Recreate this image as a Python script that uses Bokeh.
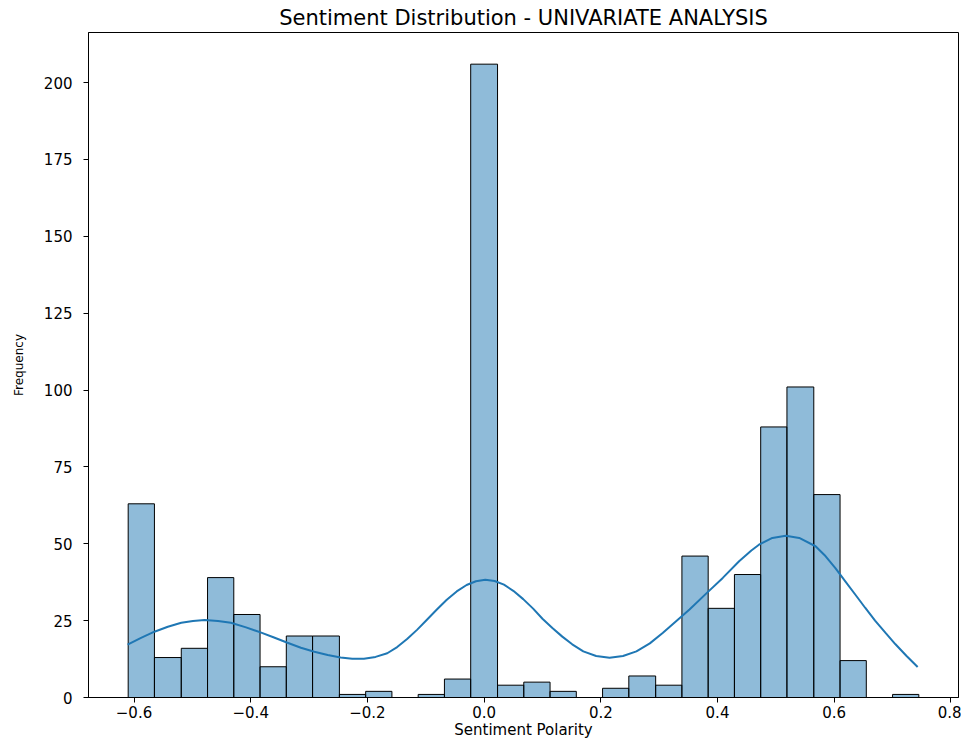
from bokeh.plotting import figure
from bokeh.models import FixedTicker, ColumnDataSource, Range1d
from bokeh.embed import file_html
from bokeh.resources import INLINE

# --- data ---
bin_edges = [-0.610, -0.565, -0.519, -0.474, -0.429, -0.384, -0.339, -0.294, -0.248, -0.203,
             -0.158, -0.113, -0.068, -0.023, 0.023, 0.068, 0.113, 0.158, 0.203, 0.248,
             0.294, 0.339, 0.384, 0.429, 0.474, 0.519, 0.565, 0.610, 0.655, 0.700, 0.745]
counts = [63, 13, 16, 39, 27, 10, 20, 20, 1, 2,
          0, 1, 6, 206, 4, 5, 2, 0, 3, 7,
          4, 46, 29, 40, 88, 101, 66, 12, 0, 1]

# KDE curve, points
kde_x = [-0.611, -0.588, -0.565, -0.542, -0.519, -0.499, -0.479, -0.456, -0.434, -0.408,
         -0.382, -0.360, -0.337, -0.314, -0.291, -0.268, -0.246, -0.226, -0.206, -0.186,
         -0.166, -0.149, -0.132, -0.115, -0.098, -0.081, -0.064, -0.047, -0.030, -0.014,
         0.002, 0.018, 0.034, 0.050, 0.067, 0.084, 0.100, 0.117, 0.134, 0.151,
         0.170, 0.192, 0.215, 0.238, 0.261, 0.284, 0.306, 0.329, 0.352, 0.380,
         0.409, 0.437, 0.458, 0.471, 0.494, 0.517, 0.540, 0.568, 0.585, 0.602,
         0.619, 0.636, 0.653, 0.670, 0.688, 0.705, 0.724, 0.743]
kde_y = [17.2, 19.4, 21.4, 23.0, 24.3, 24.9, 25.2, 24.9, 24.3, 22.8,
         21.1, 19.5, 17.8, 16.2, 14.9, 13.8, 13.0, 12.6, 12.6, 13.2,
         14.4, 16.4, 19.0, 22.0, 25.3, 28.6, 31.8, 34.5, 36.6, 37.8,
         38.3, 37.9, 36.7, 34.7, 32.0, 28.9, 25.6, 22.6, 19.8, 17.3,
         15.0, 13.5, 12.9, 13.5, 15.0, 17.6, 21.0, 24.8, 28.6, 33.7,
         38.9, 44.3, 47.8, 49.7, 51.9, 52.6, 51.9, 49.2, 46.0, 42.1,
         37.8, 33.5, 29.2, 25.0, 21.0, 17.3, 13.5, 9.9]

x_ticks = [-0.6, -0.4, -0.2, 0.0, 0.2, 0.4, 0.6, 0.8]
x_tick_labels = ["\u22120.6", "\u22120.4", "\u22120.2", "0.0", "0.2", "0.4", "0.6", "0.8"]
y_ticks = [0, 25, 50, 75, 100, 125, 150, 175, 200]

title_text = "Sentiment Distribution - UNIVARIATE ANALYSIS"
x_label = "Sentiment Polarity"
y_label = "Frequency"

FONT = "DejaVu Sans"

src = ColumnDataSource(dict(left=bin_edges[:-1], right=bin_edges[1:], top=counts,
                            bottom=[0] * len(counts)))

p = figure(width=961, height=741, output_backend="svg", toolbar_location=None,
           x_range=Range1d(-0.678, 0.813), y_range=Range1d(0, 216.3),
           min_border_left=88, min_border_right=3, min_border_top=32, min_border_bottom=43,
           title=title_text)

p.quad(left="left", right="right", top="top", bottom="bottom", source=src,
       fill_color="#1f77b4", fill_alpha=0.5, line_color="black", line_width=1)
p.line(kde_x, kde_y, line_color="#1f77b4", line_width=2)

p.title.align = "center"
p.title.text_font = FONT
p.title.text_font_size = "21px"
p.title.text_font_style = "normal"
p.title.text_color = "black"
p.title.standoff = 5

p.xgrid.visible = False
p.ygrid.visible = False
p.outline_line_color = "black"
p.outline_line_width = 1
p.background_fill_color = "white"
p.border_fill_color = "white"

for ax in (p.xaxis[0], p.yaxis[0]):
    ax.major_tick_in = 0
    ax.major_tick_out = 5
    ax.minor_tick_out = 0
    ax.minor_tick_in = 0
    ax.major_label_text_font = FONT
    ax.major_label_text_font_size = "15px"
    ax.major_label_text_color = "black"
    ax.axis_label_text_font = FONT
    ax.axis_label_text_font_style = "normal"
    ax.axis_label_text_color = "black"
    ax.axis_line_color = "black"
    ax.major_tick_line_color = "black"

p.xaxis.ticker = FixedTicker(ticks=x_ticks)
p.xaxis.major_label_overrides = {t: l for t, l in zip(x_ticks, x_tick_labels)}
p.xaxis.axis_label = x_label
p.xaxis.axis_label_text_font_size = "15px"
p.xaxis.major_label_standoff = 3
p.xaxis.axis_label_standoff = 0

p.yaxis.ticker = FixedTicker(ticks=y_ticks)
p.yaxis.axis_label = y_label
p.yaxis.axis_label_text_font_size = "12px"
p.yaxis.major_label_standoff = 11
p.yaxis.axis_label_standoff = 15

open("out.html", "w").write(file_html(p, INLINE))
